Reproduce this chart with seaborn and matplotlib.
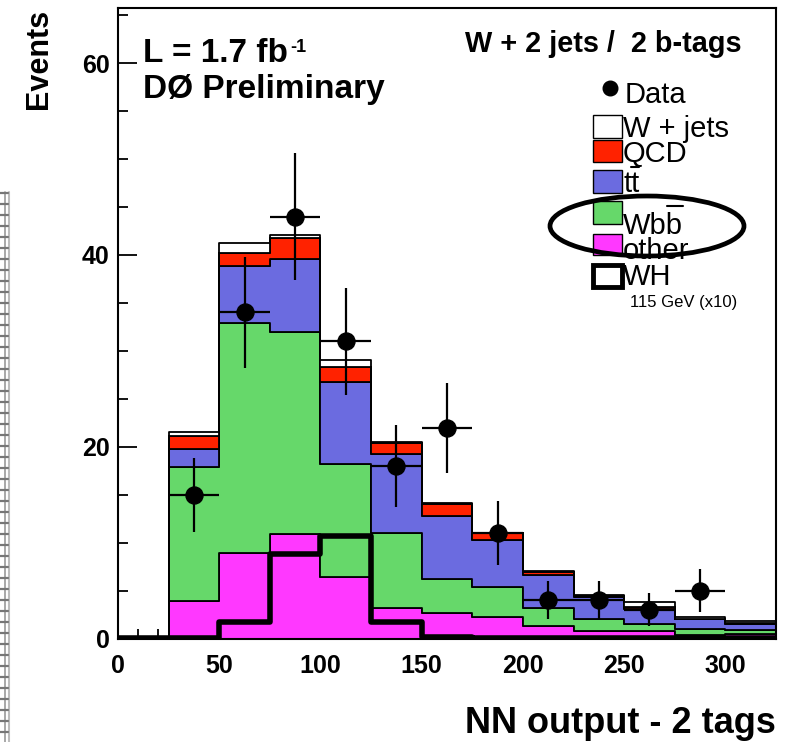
import numpy as np
import pandas as pd
import matplotlib
matplotlib.use("Agg")
import matplotlib.pyplot as plt
import seaborn as sns
from matplotlib.patches import Rectangle, Ellipse
from matplotlib.lines import Line2D
from matplotlib.ticker import MultipleLocator
from matplotlib.font_manager import FontProperties

# ---------------- data ----------------
bin_edges = [0, 25, 50, 75, 100, 125, 150, 175, 200, 225, 250, 275, 300, 325]
bin_centers = [12.5, 37.5, 62.5, 87.5, 112.5, 137.5, 162.5, 187.5, 212.5, 237.5, 262.5, 287.5, 312.5]

other = [0.0, 3.9, 8.95, 10.9, 6.45, 3.2, 2.65, 2.2, 1.3, 0.8, 0.8, 0.36, 0.47]
wbb = [0.0, 14.0, 23.95, 21.1, 11.75, 7.8, 3.6, 3.2, 1.85, 1.2, 0.7, 0.6, 0.42]
ttbar = [0.0, 1.85, 5.9, 7.6, 8.5, 8.2, 6.5, 4.9, 3.45, 2.3, 1.6, 1.05, 0.59]
qcd = [0.0, 1.35, 1.4, 2.2, 1.6, 1.15, 1.3, 0.7, 0.35, 0.1, 0.15, 0.05, 0.17]
wjets = [0.0, 0.4, 1.0, 0.3, 0.7, 0.15, 0.1, 0.05, 0.05, 0.1, 0.6, 0.2, 0.17]
wh_x10 = [0.05, 0.1, 1.7, 8.8, 10.7, 1.7, 0.2, 0.1, 0.1, 0.05, 0.05, 0.05, 0.05]
data_counts = [0, 15, 34, 44, 31, 18, 22, 11, 4, 4, 3, 5, 0]

process_names = ["W + jets", "QCD", "ttbar", "Wbb", "other"]
process_colors = {"W + jets": "#ffffff", "QCD": "#ff2200", "ttbar": "#6b6be0",
                  "Wbb": "#66d86a", "other": "#ff38ff"}
y_ticks = [0, 20, 40, 60]
x_ticks = [0, 50, 100, 150, 200, 250, 300]

# ---------------- style ----------------
sns.set_theme(style="ticks")
plt.rcParams["font.family"] = ["Liberation Sans", "DejaVu Sans"]
for key in ["text.color", "axes.labelcolor", "xtick.color", "ytick.color", "axes.edgecolor"]:
    plt.rcParams[key] = "black"

W, H = 792, 742
def fx(px):
    return px / W
def fy(py):
    return 1 - py / H

fig = plt.figure(figsize=(W / 100, H / 100), dpi=100)
fig.patch.set_facecolor("white")
ax = fig.add_axes([fx(118), fy(638.5), fx(776) - fx(118), fy(7.5) - fy(638.5)])
ax.set_facecolor("white")

# stacked backgrounds
series = {"W + jets": wjets, "QCD": qcd, "ttbar": ttbar, "Wbb": wbb, "other": other}
rows = []
for name in process_names:
    for c, v in zip(bin_centers, series[name]):
        rows.append({"x": c, "w": v, "proc": name})
df = pd.DataFrame(rows)

sns.histplot(data=df, x="x", weights="w", hue="proc", hue_order=process_names,
             palette=process_colors, multiple="stack", bins=bin_edges,
             element="step", fill=True, alpha=1, edgecolor="black",
             linewidth=1.3, legend=False, ax=ax)

# WH signal (x10)
sns.histplot(x=bin_centers, weights=wh_x10, bins=bin_edges, element="step",
             fill=False, color="black", linewidth=4, ax=ax, zorder=3)

# data points
dx = np.array([c for c, n in zip(bin_centers, data_counts) if n > 0])
dy = np.array([n for n in data_counts if n > 0], dtype=float)
ax.errorbar(dx, dy, xerr=12.5, yerr=np.sqrt(dy), fmt="none", ecolor="black",
            elinewidth=1.6, capsize=0, zorder=4)
sns.scatterplot(x=dx, y=dy, color="black", s=150, edgecolor="black", ax=ax, zorder=5)

# axes
ax.set_xlim(0, 325)
ax.set_ylim(0, 65.8)
ax.set_xticks(x_ticks)
ax.set_yticks(y_ticks)
ax.xaxis.set_minor_locator(MultipleLocator(10))
ax.yaxis.set_minor_locator(MultipleLocator(5))
ax.tick_params(which="both", direction="in", top=False, right=False, colors="black",
               width=1.3)
ax.tick_params(which="major", length=14, labelsize=18, pad=6)
ax.tick_params(which="minor", length=7)
ax.tick_params(axis="x", which="major", pad=11)
for lab in ax.get_xticklabels() + ax.get_yticklabels():
    lab.set_fontweight("bold")
for s in ax.spines.values():
    s.set_linewidth(1.5)
    s.set_color("black")
ax.set_xlabel("")
ax.set_ylabel("")

fig.text(fx(776), fy(733), "NN output - 2 tags", ha="right", va="baseline",
         fontsize=26, fontweight="bold")
fig.text(fx(54), fy(9), "Events", rotation=90, ha="right", va="top",
         fontsize=22, fontweight="bold")

# annotations
fig.text(fx(143), fy(62), "L = 1.7 fb", ha="left", va="baseline",
         fontsize=24, fontweight="bold")
fig.text(fx(290), fy(52), "-1", ha="left", va="baseline", fontsize=13, fontweight="bold")
fig.text(fx(143), fy(98), "D\u00d8 Preliminary", ha="left", va="baseline",
         fontsize=24, fontweight="bold")
fig.text(fx(465), fy(52), "W + 2 jets /  2 b-tags", ha="left", va="baseline",
         fontsize=20.8, fontweight="bold")

# manual legend
LEG_FS = 21
fig.add_artist(Line2D([fx(610)], [fy(88)], marker="o", ms=10.5, color="black",
                      linestyle="none", transform=fig.transFigure))
fig.text(fx(625), fy(103), "Data", ha="left", va="baseline", fontsize=LEG_FS)
legend_rows = [
    (process_colors["W + jets"], 115, 138, 137, "W + jets", 1.0, None, 0),
    (process_colors["QCD"], 139.5, 161.5, 162, "QCD", 1.0, None, 0),
    (process_colors["ttbar"], 170, 193, 192, "tt", 1.0, ("t", "t"), 25),
    (process_colors["Wbb"], 201.5, 223.5, 234, "Wbb", 1.0, ("Wb", "b"), 28),
    (process_colors["other"], 233.5, 255, 259, "other", 1.0, None, 0),
    ("#ffffff", 265, 286.5, 285, "WH", 3.5, None, 0),
]
fig.canvas.draw()
renderer = fig.canvas.get_renderer()
fp = FontProperties(family="Liberation Sans", size=LEG_FS)
for col, top, bot, base, label, lw, bar, bar_h in legend_rows:
    fig.add_artist(Rectangle((fx(593), fy(bot)), fx(622) - fx(593), fy(top) - fy(bot),
                             facecolor=col, edgecolor="black", linewidth=lw,
                             transform=fig.transFigure))
    fig.text(fx(623), fy(base), label, ha="left", va="baseline", fontsize=LEG_FS)
    if bar is not None:
        pre_w = renderer.get_text_width_height_descent(bar[0], fp, ismath=False)[0]
        ch_w = renderer.get_text_width_height_descent(bar[1], fp, ismath=False)[0]
        x0 = 623 + pre_w
        x1 = 623 + pre_w + ch_w
        fig.add_artist(Line2D([fx(x0), fx(x1)], [fy(base - bar_h), fy(base - bar_h)],
                              color="black", lw=1.5, transform=fig.transFigure))
fig.text(fx(630), fy(307), "115 GeV (x10)", ha="left", va="baseline", fontsize=12)

# hand-drawn ellipse around Wbb
fig.add_artist(Ellipse((fx(647), fy(226)), fx(194), 60 / H, facecolor="none",
                       edgecolor="black", linewidth=3.4, transform=fig.transFigure))

# scanned ruler artefact at left edge
fig.add_artist(Line2D([fx(5), fx(5)], [fy(192), fy(742)], color="#9a9a9a", lw=1.2,
                      transform=fig.transFigure))
fig.add_artist(Line2D([fx(8.5), fx(8.5)], [fy(192), fy(742)], color="#bdbdbd", lw=1.5,
                      transform=fig.transFigure))
for k in range(50):
    yy = 193 + 11 * k
    if yy > 742:
        break
    fig.add_artist(Line2D([fx(0), fx(8)], [fy(yy), fy(yy)], color="#777777", lw=1.6,
                          transform=fig.transFigure))

fig.savefig("out.png", dpi=100, facecolor="white")
